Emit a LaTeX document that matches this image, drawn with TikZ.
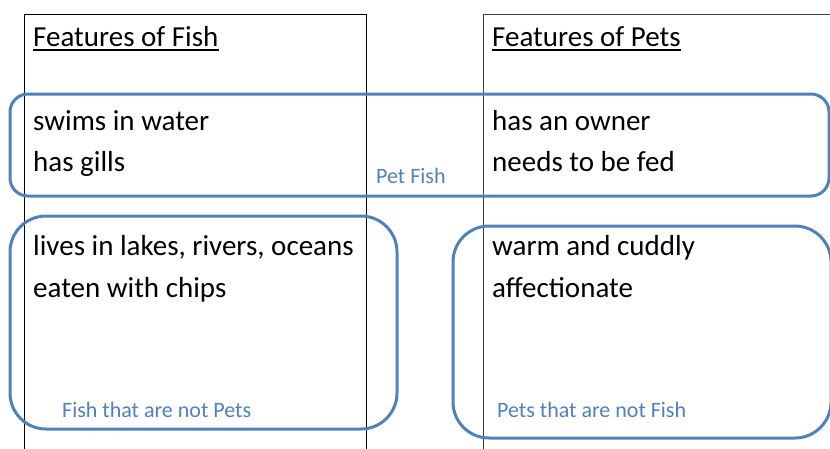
\documentclass[tikz,border=0pt]{standalone}
\usepackage{fontspec}
\setmainfont{Carlito}
\definecolor{setblue}{HTML}{4F81BD}
\begin{document}
\begin{tikzpicture}[x=1pt,y=-1pt,
  colline/.style={draw=black,line width=1pt},
  setbox/.style={draw=setblue,line width=3pt},
  item/.style={anchor=base west,inner sep=0pt,font=\fontsize{29}{33}\selectfont},
  tag/.style={anchor=base west,inner sep=0pt,text=setblue,font=\fontsize{22}{25}\selectfont}]
\useasboundingbox (0,0) rectangle (830,448);
\clip (0,0) rectangle (830,448);
% the two columns of the table
\draw[colline] (24,470) -- (24,14) -- (366,14) -- (366,470);
\draw[colline,draw=black!75] (483,470) -- (483,14) -- (850,14);
% headings
\node[item] (hfish) at (33,46) {Features of Fish};
\node[item] (hpets) at (492,46) {Features of Pets};
\draw[line width=1.2pt] ([yshift=-4pt]hfish.base west) -- ([yshift=-4pt]hfish.base east);
\draw[line width=1.2pt] ([yshift=-4pt]hpets.base west) -- ([yshift=-4pt]hpets.base east);
% features
\node[item] (f1) at (33,130) {swims in water};
\node[item] (f2) at (33,171) {has gills};
\node[item] (p1) at (492,130) {has an owner};
\node[item] (p2) at (492,171) {needs to be fed};
\node[item] (f3) at (33,255) {lives in lakes, rivers, oceans};
\node[item] (f4) at (33,297) {eaten with chips};
\node[item] (p3) at (492,255) {warm and cuddly};
\node[item] (p4) at (492,297) {affectionate};
% groupings
\draw[setbox,rounded corners=18pt] (10,94) rectangle (829,196);
\draw[setbox,rounded corners=36pt] (10,216) rectangle (397,429);
\draw[setbox,rounded corners=36pt] (453,226) rectangle (831,438);
\node[tag] (tpf) at (376,183) {Pet Fish};
\node[tag] (tfn) at (62,417) {Fish that are not Pets};
\node[tag] (tpn) at (497,417) {Pets that are not Fish};
\end{tikzpicture}
\end{document}
